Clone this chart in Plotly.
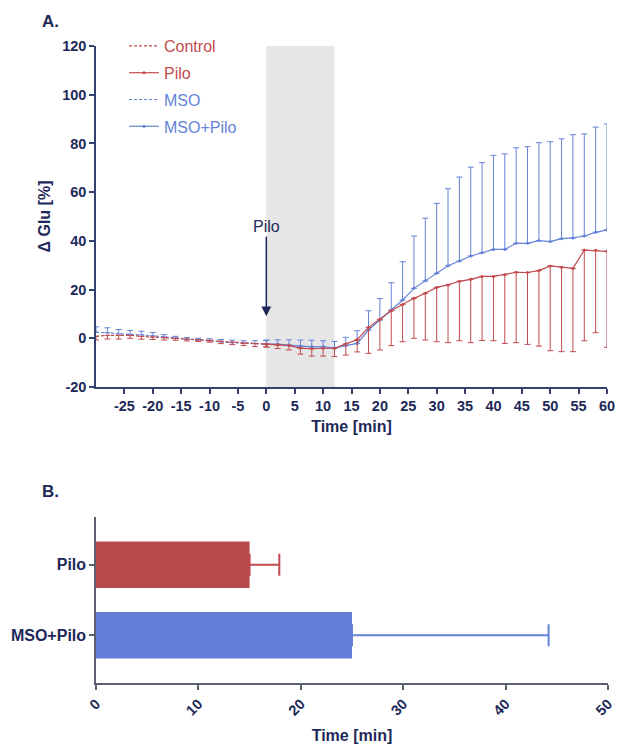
import plotly.graph_objects as go

# ---------------- data ----------------
t_base = [-30, -28, -26, -24, -22, -20, -18, -16, -14, -12, -10, -8, -6, -4, -2, 0]
control = [0.8, 1.2, 1.2, 1.2, 0.8, 0.5, 0.3, 0.0, -0.3, -0.5, -0.8, -1.2, -1.6, -2.0, -2.2, -2.4]
control_err = [1.5, 1.5, 1.5, 1.2, 1.2, 1.0, 1.0, 0.8, 0.8, 0.8, 0.8, 1.0, 1.0, 1.0, 1.2, 1.2]
mso = [2.5, 2.3, 1.8, 1.6, 1.4, 1.0, 0.5, 0.0, -0.5, -0.8, -1.0, -1.5, -1.8, -2.0, -2.2, -2.4]
mso_err = [2.2, 2.0, 1.8, 1.6, 1.5, 1.4, 1.0, 0.8, 0.8, 0.8, 0.8, 1.0, 1.0, 1.0, 1.2, 1.5]

t_pilo = [0, 2, 4, 6, 8, 10, 12, 14, 16, 18, 20, 22, 24, 26, 28, 30,
          32, 34, 36, 38, 40, 42, 44, 46, 48, 50, 52, 54, 56, 58, 60]
pilo = [-2.4, -2.7, -3.0, -4.0, -4.3, -4.1, -4.1, -2.3, -0.6, 4.5, 7.8, 11.3, 13.9, 16.4, 18.5, 20.9,
        21.9, 23.4, 24.2, 25.4, 25.4, 26.1, 27.1, 27.0, 27.8, 29.7, 29.2, 28.7, 36.2, 36.1, 35.7]
pilo_err = [1.2, 1.5, 1.8, 2.5, 3.0, 3.2, 3.4, 4.6, 5.0, 10.7, 12.6, 14.3, 15.3, 16.4, 19.2, 22.3,
            23.7, 24.4, 26.0, 26.3, 26.4, 28.2, 28.9, 29.5, 31.0, 34.8, 34.7, 34.2, 37.2, 33.8, 39.4]
msopilo = [-2.4, -2.4, -2.8, -3.2, -3.5, -3.4, -4.0, -3.0, -2.1, 3.4, 7.5, 11.6, 15.7, 20.5, 23.6, 26.7,
           29.8, 31.7, 33.8, 35.1, 36.5, 36.5, 39.0, 39.0, 40.1, 39.7, 40.9, 41.2, 42.0, 43.5, 44.5]
msopilo_err = [1.7, 1.8, 2.2, 2.5, 2.7, 2.4, 2.7, 3.4, 5.2, 7.9, 8.8, 11.2, 15.7, 21.5, 25.7, 28.7,
               31.6, 34.5, 36.5, 37.0, 38.6, 39.2, 39.2, 39.7, 40.2, 41.0, 41.0, 42.4, 41.9, 43.2, 43.5]

groups = ["Pilo", "MSO+Pilo"]
onset_mean = [15.0, 25.0]
onset_err = [2.9, 19.2]

x_ticks_top = [-25, -20, -15, -10, -5, 0, 5, 10, 15, 20, 25, 30, 35, 40, 45, 50, 55, 60]
y_ticks_top = [-20, 0, 20, 40, 60, 80, 100, 120]
x_ticks_bot = [0, 10, 20, 30, 40, 50]

# ---------------- style ----------------
W, H = 617, 747
L, R, T, B = 96, 609, 46, 683   # plotting area in pixels
RED = "#c24b4f"
BLUE = "#6483d8"
RED_BAR = "#b94a4c"
BLUE_BAR = "#627dd5"
NAVY = "#1d2858"
AXIS = "#34406e"
AXIS2 = "#5a6070"
FONT = "Liberation Sans"


def fx(p):
    return (p - L) / (R - L)


def fy(p):
    return (B - p) / (B - T)


def hyphen_labels(vals):
    return [str(v) for v in vals]   # ASCII hyphen-minus, as in the original


fig = go.Figure()

# grey Pilo application window
fig.add_shape(type="rect", xref="x", yref="y", x0=0, x1=12, y0=-20, y1=120,
              fillcolor="#e6e6e6", line_width=0, layer="below")


def zeros(n):
    return [0] * n


# blue traces first (drawn under red)
fig.add_trace(go.Scatter(
    x=t_base, y=mso, mode="lines", name=f"<span style='color:{BLUE}'>MSO</span>",
    legendgroup="c", legendrank=3,
    line=dict(color=BLUE, width=1.2, dash="3px,2px"),
    error_y=dict(type="data", symmetric=False, array=mso_err, arrayminus=zeros(len(mso)),
                 color=BLUE, thickness=1, width=3),
    xaxis="x", yaxis="y"))
fig.add_trace(go.Scatter(
    x=t_pilo, y=msopilo, mode="lines+markers", name=f"<span style='color:{BLUE}'>MSO+Pilo</span>",
    legendgroup="d", legendrank=4,
    line=dict(color=BLUE, width=1.2), marker=dict(size=3, color=BLUE),
    error_y=dict(type="data", symmetric=False, array=msopilo_err, arrayminus=zeros(len(msopilo)),
                 color=BLUE, thickness=1, width=3),
    xaxis="x", yaxis="y"))
fig.add_trace(go.Scatter(
    x=t_base, y=control, mode="lines", name=f"<span style='color:{RED}'>Control</span>",
    legendgroup="a", legendrank=1,
    line=dict(color=RED, width=1.2, dash="3px,2px"),
    error_y=dict(type="data", symmetric=False, array=zeros(len(control)), arrayminus=control_err,
                 color=RED, thickness=1, width=3),
    xaxis="x", yaxis="y"))
fig.add_trace(go.Scatter(
    x=t_pilo, y=pilo, mode="lines+markers", name=f"<span style='color:{RED}'>Pilo</span>",
    legendgroup="b", legendrank=2,
    line=dict(color=RED, width=1.2), marker=dict(size=3, color=RED),
    error_y=dict(type="data", symmetric=False, array=zeros(len(pilo)), arrayminus=pilo_err,
                 color=RED, thickness=1, width=3),
    xaxis="x", yaxis="y"))

# bottom bars
bar_colors = [RED_BAR, BLUE_BAR]
err_colors = [RED, BLUE]
for i, g in enumerate(groups):
    fig.add_trace(go.Bar(
        x=[onset_mean[i]], y=[g], orientation="h", width=0.66,
        marker=dict(color=bar_colors[i], line=dict(width=0)),
        error_x=dict(type="data", symmetric=False, array=[onset_err[i]], arrayminus=[0],
                     color=err_colors[i], thickness=2, width=11),
        showlegend=False, xaxis="x2", yaxis="y2"))

tick_font = dict(family=FONT, size=14.5, color=NAVY, weight="bold")
title_font = dict(family=FONT, size=16, color=NAVY, weight="bold")

common = dict(showline=True, linewidth=1.5, ticks="outside", ticklen=5, tickwidth=1.5,
              showgrid=False, zeroline=False, automargin=False)

fig.update_layout(
    width=W, height=H,
    margin=dict(l=L, r=W - R, t=T, b=H - B, autoexpand=False),
    paper_bgcolor="white", plot_bgcolor="white",
    barmode="overlay",
    font=dict(family=FONT, color=NAVY),
    showlegend=True,
    legend=dict(x=fx(124), y=fy(29), xanchor="left", yanchor="top",
                font=dict(family=FONT, size=16), bgcolor="rgba(0,0,0,0)",
                traceorder="grouped", tracegroupgap=3),
    xaxis=dict(domain=[0, fx(607)], range=[-30, 60], tickvals=x_ticks_top,
               ticktext=hyphen_labels(x_ticks_top),
               linecolor=AXIS, tickcolor=AXIS, tickfont=tick_font, anchor="y",
               title=dict(text="Time [min]", font=title_font, standoff=8), **common),
    yaxis=dict(domain=[fy(387), 1], range=[-20, 120], tickvals=y_ticks_top,
               ticktext=hyphen_labels(y_ticks_top),
               linecolor=AXIS, tickcolor=AXIS, tickfont=tick_font, anchor="x",
               title=dict(text="Δ Glu [%]", font=title_font, standoff=8), **common),
    xaxis2=dict(domain=[0, fx(608)], range=[0, 50], tickvals=x_ticks_bot, tickangle=-45,
                linecolor=AXIS2, tickcolor=AXIS2, tickfont=tick_font, anchor="y2",
                title=dict(text="Time [min]", font=title_font, standoff=12), **common),
    yaxis2=dict(domain=[0, fy(517)], type="category", categoryorder="array",
                categoryarray=groups, range=[1.68, -0.68],
                linecolor=AXIS2, tickcolor=AXIS2,
                tickfont=dict(family=FONT, size=16, color=NAVY, weight="bold"), anchor="x2",
                **common),
)

fig.add_annotation(x=fx(40), y=fy(21), xref="paper", yref="paper", xanchor="left", yanchor="middle",
                   text="<b>A.</b>", showarrow=False, font=dict(family=FONT, size=17, color=NAVY))
fig.add_annotation(x=fx(40), y=fy(491), xref="paper", yref="paper", xanchor="left", yanchor="middle",
                   text="<b>B.</b>", showarrow=False, font=dict(family=FONT, size=17, color=NAVY))
fig.add_annotation(x=0, y=9, xref="x", yref="y", ax=0, ay=45.8, axref="x", ayref="y",
                   text="Pilo", showarrow=True, arrowhead=2, arrowsize=1.3, arrowwidth=1.5,
                   arrowcolor=NAVY, font=dict(family=FONT, size=16, color=NAVY))

fig.write_html("out.html")
